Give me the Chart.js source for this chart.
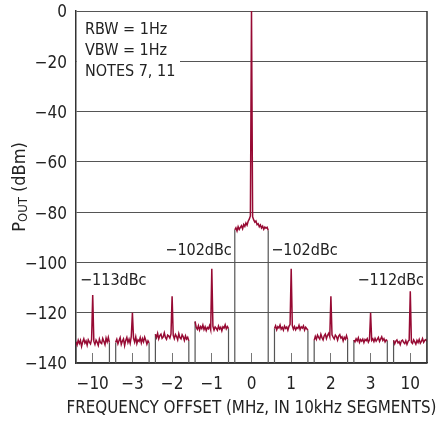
<!DOCTYPE html>
<html>
<head>
<meta charset="utf-8">
<script src="https://cdn.jsdelivr.net/npm/chart.js@4"></script>
<style>
  html, body { margin: 0; padding: 0; background: #fff; }
  #wrap { width: 439px; height: 423px; }
</style>
</head>
<body>
<div id="wrap"><canvas id="spec" width="439" height="423"></canvas></div>
<script>
// segment labels (MHz offset), each segment is a 10kHz window
const segLabels = ['\u221210', '\u22123', '\u22122', '\u22121', '0', '1', '2', '3', '10'];
const yTicks = [0, -20, -40, -60, -80, -100, -120, -140];

// trace values per segment (dBm), 31 pts each, spur in the middle
const segM10 = [-131.5,-132.8,-130.9,-132.2,-131.0,-133.4,-131.6,-130.4,-132.1,-131.2,-132.9,-130.8,-131.7,-132.4,-130.6,-113,-131.3,-132.6,-130.9,-131.8,-133.0,-130.5,-131.9,-132.3,-130.2,-131.4,-132.7,-130.1,-131.6,-129.8,-131.9];
const segM3 = [-131.8,-130.6,-132.4,-131.1,-129.9,-132.6,-131.3,-130.4,-133.1,-131.0,-129.8,-131.9,-130.5,-132.2,-129.4,-120,-130.1,-131.7,-129.6,-132.3,-130.8,-131.4,-129.9,-132.0,-130.3,-131.6,-129.7,-130.9,-132.5,-131.2,-132.0];
const segM2 = [-128.6,-129.9,-128.2,-130.4,-129.1,-128.5,-130.2,-129.6,-128.0,-129.8,-130.6,-128.9,-129.3,-130.1,-128.4,-113.5,-129.0,-130.3,-128.7,-129.5,-130.8,-128.3,-129.9,-130.4,-128.8,-129.6,-131.0,-129.2,-130.5,-129.8,-131.2];
const segM1 = [-123.5,-125.8,-126.6,-125.2,-126.9,-125.5,-126.3,-124.9,-126.7,-125.6,-127.1,-125.9,-126.4,-125.1,-126.8,-102.5,-125.4,-126.9,-125.7,-126.2,-127.0,-125.3,-126.5,-125.8,-127.2,-125.6,-126.1,-124.8,-126.4,-125.5,-126.3];
const seg0 = [-87.0,-86.2,-87.5,-85.8,-86.9,-86.1,-85.4,-86.6,-84.9,-85.7,-84.3,-85.2,-83.6,-82.8,-81.5,0,-81.8,-83.1,-84.0,-83.5,-85.0,-84.6,-85.8,-85.1,-86.3,-85.6,-86.8,-85.9,-86.4,-86.0,-87.2];
const seg1 = [-126.3,-125.2,-126.8,-125.6,-126.1,-124.9,-126.5,-125.8,-126.9,-125.3,-126.2,-125.7,-127.0,-125.4,-124.6,-102.5,-125.1,-126.6,-125.5,-126.8,-125.9,-126.3,-125.0,-126.7,-125.6,-126.1,-125.2,-126.9,-125.8,-126.4,-127.0];
const seg2 = [-131.0,-129.4,-130.6,-128.9,-129.8,-130.5,-128.6,-129.9,-130.8,-129.2,-128.5,-130.3,-129.0,-128.2,-129.6,-113.5,-128.8,-129.7,-130.4,-128.9,-129.5,-130.9,-129.3,-128.7,-130.1,-129.6,-131.2,-129.8,-130.5,-129.1,-130.7];
const seg3 = [-130.9,-131.6,-130.4,-131.2,-130.0,-131.8,-130.7,-131.3,-130.5,-131.9,-130.6,-131.1,-130.3,-131.7,-130.8,-120,-131.0,-130.4,-131.5,-130.2,-131.3,-130.6,-129.8,-131.4,-130.5,-129.6,-131.0,-130.3,-131.6,-130.8,-131.2];
const seg10 = [-131.0,-132.4,-131.3,-130.8,-132.0,-131.5,-132.7,-131.2,-130.9,-131.8,-132.3,-131.1,-132.6,-131.4,-130.9,-111.5,-131.7,-132.2,-130.8,-131.6,-132.5,-131.0,-131.9,-130.6,-132.1,-131.4,-130.3,-131.8,-131.0,-130.7,-131.5];

const segments = [segM10, segM3, segM2, segM1, seg0, seg1, seg2, seg3, seg10];
const spurLabels = ['\u2212113dBc', '\u2212102dBc', '\u2212102dBc', '\u2212112dBc'];
const noteLines = ['RBW = 1Hz', 'VBW = 1Hz', 'NOTES 7, 11'];
const xTitle = 'FREQUENCY OFFSET (MHz, IN 10kHz SEGMENTS)';

const SEG_W = 0.842; // segment width, in segment periods
const FONT = "'Liberation Sans Narrow', 'DejaVu Sans Condensed', 'Liberation Sans', sans-serif";
const TRACE = '#970a33';

// build the trace (nulls split segments) and the gray edge lines
const trace = [];
const edges = [];
segments.forEach((vals, i) => {
    const n = vals.length;
    vals.forEach((v, k) => {
        trace.push({ x: i + k / (n - 1) * SEG_W, y: v });
    });
    trace.push({ x: i + SEG_W + 0.01, y: null });
    edges.push({ x: i, y: -140 }, { x: i, y: vals[0] }, { x: i + 0.01, y: null });
    edges.push({ x: i + SEG_W, y: vals[n - 1] }, { x: i + SEG_W, y: -140 }, { x: i + SEG_W + 0.01, y: null });
});

Chart.defaults.font.family = FONT;
Chart.defaults.color = '#222';

const extras = {
    id: 'extras',
    afterDraw(chart) {
        const ctx = chart.ctx;
        const a = chart.chartArea;
        const xs = chart.scales.x;
        const ys = chart.scales.y;
        ctx.save();
        // right frame line
        ctx.strokeStyle = '#333';
        ctx.lineWidth = 1.5;
        ctx.beginPath();
        ctx.moveTo(a.right, a.top);
        ctx.lineTo(a.right, a.bottom);
        ctx.stroke();

        // notes box
        ctx.fillStyle = '#fff';
        ctx.fillRect(a.left + 1, a.top + 8, 103, 72);
        ctx.fillStyle = '#222';
        ctx.font = '16px ' + FONT;
        ctx.textBaseline = 'middle';
        ctx.textAlign = 'left';
        noteLines.forEach((t, i) => ctx.fillText(t, a.left + 9, a.top + 19 + i * 21));

        // spur labels
        ctx.textAlign = 'left';
        ctx.fillText(spurLabels[0], a.left + 4, ys.getPixelForValue(-107.5));
        ctx.textAlign = 'right';
        ctx.fillText(spurLabels[1], xs.getPixelForValue(4) - 3, ys.getPixelForValue(-95.5));
        ctx.textAlign = 'left';
        ctx.fillText(spurLabels[2], xs.getPixelForValue(4 + SEG_W) + 3, ys.getPixelForValue(-95.5));
        ctx.textAlign = 'right';
        ctx.fillText(spurLabels[3], a.right - 3, ys.getPixelForValue(-107.5));

        // x title, stretched to the reference width
        ctx.font = '17px ' + FONT;
        ctx.textAlign = 'center';
        const tw = ctx.measureText(xTitle).width;
        ctx.save();
        ctx.translate((a.left + a.right) / 2 + 0, 408);
        ctx.scale(370 / tw, 1.08);
        ctx.fillText(xTitle, 0, 0);
        ctx.restore();

        // y title with subscript
        const cy = (a.top + a.bottom) / 2;
        ctx.translate(20, cy);
        ctx.rotate(-Math.PI / 2);
        ctx.textAlign = 'left';
        ctx.textBaseline = 'middle';
        const big = '18px ' + FONT, small = '13px ' + FONT;
        ctx.font = big; const wP = ctx.measureText('P').width;
        const wR = ctx.measureText(' (dBm)').width;
        ctx.font = small; const wS = ctx.measureText('OUT').width;
        let x0 = -(wP + wS + wR) / 2;
        ctx.font = big; ctx.fillText('P', x0, 0);
        ctx.font = small; ctx.fillText('OUT', x0 + wP, 4);
        ctx.font = big; ctx.fillText(' (dBm)', x0 + wP + wS, 0);
        ctx.restore();
    }
};

new Chart(document.getElementById('spec'), {
    type: 'line',
    data: {
        datasets: [
            {
                label: 'trace',
                data: trace,
                borderColor: TRACE,
                borderWidth: 1.5,
                pointRadius: 0,
                tension: 0,
                spanGaps: false
            },
            {
                label: 'edges',
                data: edges,
                borderColor: '#555',
                borderWidth: 1.2,
                pointRadius: 0,
                tension: 0,
                spanGaps: false
            }
        ]
    },
    options: {
        responsive: false,
        animation: false,
        layout: { padding: { top: 11, right: 12, left: 0, bottom: 0 } },
        plugins: { legend: { display: false }, tooltip: { enabled: false } },
        scales: {
            x: {
                type: 'linear',
                min: 0,
                max: 8 + SEG_W,
                afterBuildTicks: (s) => {
                    s.ticks = segLabels.map((_, i) => ({ value: i + SEG_W / 2 }));
                },
                afterFit: (s) => {
                    s.height = 60;
                    s.paddingLeft = 0;
                    s.paddingRight = 0;
                },
                ticks: {
                    autoSkip: false,
                    maxRotation: 0,
                    padding: 21,
                    font: { size: 17 },
                    callback: (v, i) => segLabels[i]
                },
                grid: {
                    drawOnChartArea: false,
                    drawTicks: true,
                    tickLength: -10,
                    tickColor: '#777',
                    lineWidth: 1
                },
                border: { display: true, color: '#333', width: 1.5 },
                title: { display: false }
            },
            y: {
                min: -140,
                max: 0,
                afterBuildTicks: (s) => {
                    s.ticks = yTicks.map(v => ({ value: v }));
                },
                afterFit: (s) => {
                    s.width = 76;
                    s.paddingTop = 0;
                    s.paddingBottom = 0;
                },
                ticks: {
                    padding: 9,
                    labelOffset: 2,
                    font: { size: 17 },
                    callback: (v) => v === 0 ? '0' : '\u2212' + Math.abs(v)
                },
                grid: { color: '#555', lineWidth: 1, drawTicks: false },
                border: { display: true, color: '#333', width: 1.5 }
            }
        }
    },
    plugins: [extras]
});
</script>
</body>
</html>
